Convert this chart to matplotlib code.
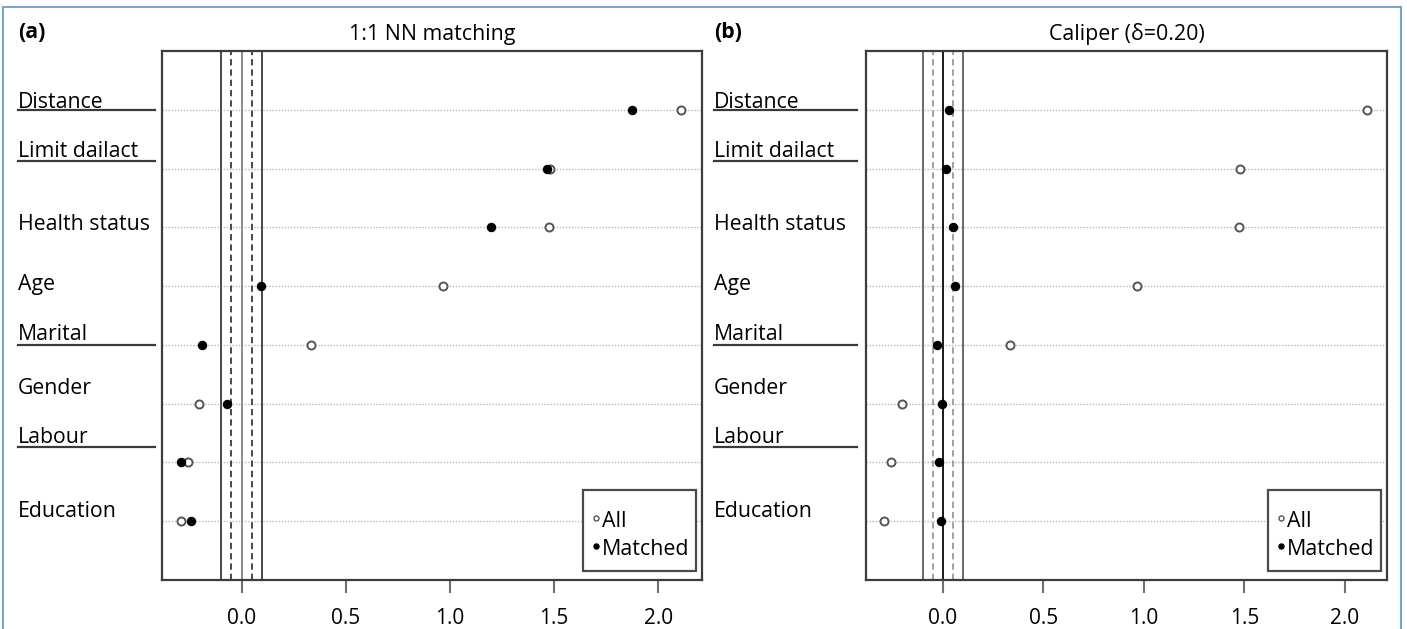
import matplotlib
matplotlib.use("Agg")
import matplotlib.pyplot as plt
from matplotlib.lines import Line2D
from matplotlib.patches import Rectangle
import matplotlib.transforms as mtransforms

plt.rcParams['font.family'] = ['Open Sans', 'DejaVu Sans']

# ---------------- data ----------------
covariates = ["Distance", "Limit dailact", "Health status", "Age",
              "Marital", "Gender", "Labour", "Education"]
underlined = [True, True, False, False, True, False, True, False]

all_values = [2.11, 1.48, 1.475, 0.965, 0.335, -0.205, -0.257, -0.290]
matched_nn = [1.875, 1.465, 1.199, 0.091, -0.192, -0.072, -0.291, -0.243]
matched_caliper = [0.030, 0.014, 0.052, 0.061, -0.027, -0.005, -0.018, -0.009]

panel_tags = ["(a)", "(b)"]
panel_titles = ["1:1 NN matching", "Caliper (\u03b4=0.20)"]
xticks = [0.0, 0.5, 1.0, 1.5, 2.0]
xtick_labels = ["0.0", "0.5", "1.0", "1.5", "2.0"]
legend_labels = ["All", "Matched"]

# ---------------- layout / style ----------------
W, H = 1407, 629
fig = plt.figure(figsize=(W / 100, H / 100), dpi=100)

# label baseline offsets (data units, relative to row) and underline offsets
label_offsets = [0.03, 0.20, -0.05, -0.06, 0.075, 0.16, 0.33, 0.07]
underline_offsets = [0.0, 0.13, 0.0, 0.0, 0.0, 0.0, 0.26, 0.0]

axes_px = [(162, 702), (866, 1387)]
label_x_px = [18, 714]
underline_end_px = [155, 857]
top_px, bot_px = 51, 580

# legend box geometry in pixels (offsets from axes right / bottom)
leg_right_gap, leg_bottom_gap, leg_w, leg_h = 6, 9, 113, 81
leg_marker_dx, leg_text_dx = 13, 19
leg_row_dy = [53, 25]        # marker centre height above box bottom
leg_base_dy = [44, 16]       # text baseline height above box bottom

xlim = (-0.382, 2.21)
ylim = (0, 9)
n = len(covariates)
rows = list(range(n, 0, -1))

panels = [matched_nn, matched_caliper]
vline_styles = [
    dict(solid_outer='#4a4a4a', zero='#8a8a8a', dashed='#3a3a3a'),
    dict(solid_outer='#6a6a6a', zero='#1a1a1a', dashed='#9a9a9a'),
]

for p in range(2):
    l, r = axes_px[p]
    aw, ah = r - l, bot_px - top_px
    ax = fig.add_axes([l / W, (H - bot_px) / H, aw / W, ah / H])
    ax.set_xlim(*xlim)
    ax.set_ylim(*ylim)

    st = vline_styles[p]
    for xv in (-0.1, 0.1):
        ax.axvline(xv, color=st['solid_outer'], lw=1.4, zorder=1)
    ax.axvline(0.0, color=st['zero'], lw=1.4, zorder=1)
    for xv in (-0.05, 0.05):
        ax.axvline(xv, color=st['dashed'], lw=1.3, ls=(0, (3.5, 2.2)), zorder=1)

    for y in rows:
        ax.axhline(y, color='#b8b8b8', lw=1.0, ls=(0, (1, 1.2)), zorder=0.5)

    ax.plot(all_values, rows, ls='none', marker='o', ms=5.8, mfc='white',
            mec='#555555', mew=1.4, zorder=3)
    ax.plot(panels[p], rows, ls='none', marker='o', ms=5.8, mfc='black',
            mec='black', mew=1.0, zorder=4)

    for spine in ax.spines.values():
        spine.set_color('#3c3c3c')
        spine.set_linewidth(1.6)

    ax.set_yticks([])
    ax.set_xticks(xticks)
    ax.set_xticklabels(xtick_labels, fontsize=15)
    ax.tick_params(axis='x', length=9, width=1.5, color='#707070', pad=11,
                   labelcolor='black')

    ax.set_title(panel_titles[p], fontsize=15.4, pad=8)

    # panel tag
    fig.text(label_x_px[p] / W, 1 - 38 / H, panel_tags[p], fontsize=15.3,
             fontweight='bold', ha='left', va='baseline')

    # covariate labels in the left margin
    trans = mtransforms.blended_transform_factory(fig.transFigure, ax.transData)
    for i, name in enumerate(covariates):
        y = rows[i]
        ax.text(label_x_px[p] / W, y + label_offsets[i], name, transform=trans,
                fontsize=15.3, ha='left', va='baseline', clip_on=False)
        if underlined[i]:
            yy = y + underline_offsets[i]
            ax.add_line(Line2D([label_x_px[p] / W, underline_end_px[p] / W], [yy, yy],
                               transform=trans, color='#3a3a3a', lw=1.6,
                               clip_on=False))

    # legend (box + keys), positioned in axes-fraction coordinates
    bx0 = (aw - leg_right_gap - leg_w) / aw
    by0 = leg_bottom_gap / ah
    ax.add_patch(Rectangle((bx0, by0), leg_w / aw, leg_h / ah, transform=ax.transAxes,
                           facecolor='white', edgecolor='#4a4a4a', lw=1.6, zorder=6))
    key_styles = [dict(mfc='white', mec='#555555', mew=1.0),
                  dict(mfc='black', mec='black', mew=1.0)]
    for k, lab in enumerate(legend_labels):
        mx = bx0 + leg_marker_dx / aw
        my = by0 + leg_row_dy[k] / ah
        ax.plot([mx], [my], ls='none', marker='o', ms=3.6, transform=ax.transAxes,
                zorder=7, clip_on=False, **key_styles[k])
        ax.text(bx0 + leg_text_dx / aw, by0 + leg_base_dy[k] / ah, lab,
                transform=ax.transAxes, fontsize=15.4, ha='left', va='baseline',
                zorder=7)

# figure border (light blue frame)
fig.patches.append(Rectangle((3 / W, -0.05), (1401 - 3) / W, 1.05 - 7 / H,
                             transform=fig.transFigure, fill=False,
                             edgecolor='#7aa6c6', lw=1.5))

fig.savefig("out.png", dpi=100)
